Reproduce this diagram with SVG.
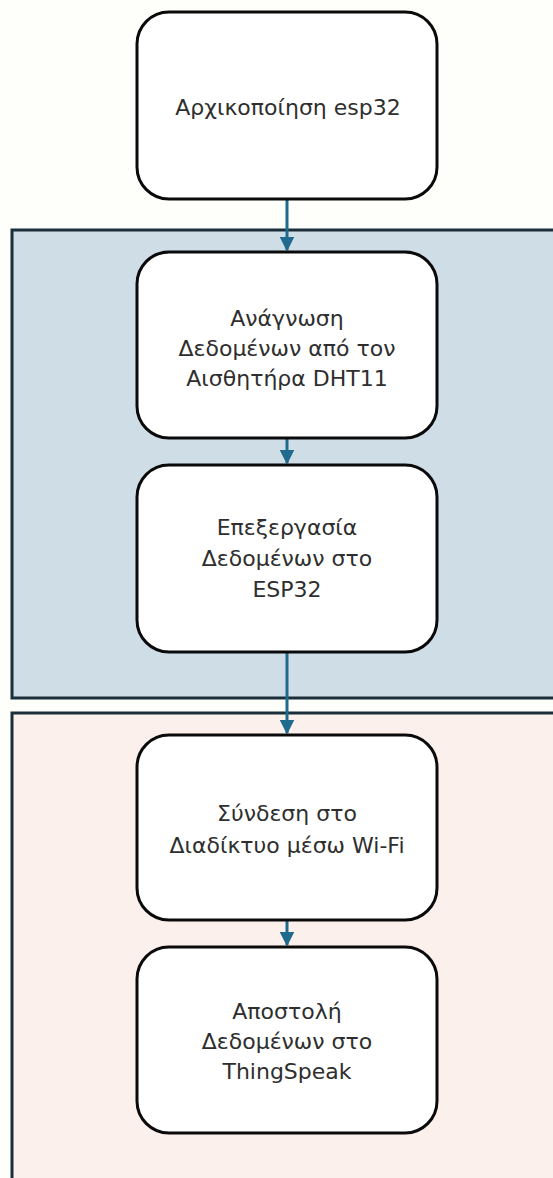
<svg xmlns="http://www.w3.org/2000/svg" width="553" height="1178" viewBox="0 0 553 1178">
<defs>
<style>
.bg{fill:#fefefb}
.lane{stroke:#1b2f3a;stroke-width:3}
.node{fill:#ffffff;stroke:#0a0a0a;stroke-width:3}
.lbl{font-family:"DejaVu Sans","Liberation Sans",sans-serif;font-size:22px;fill:#2e2e2e;text-anchor:middle}
.conn{stroke:#1f6a8d;stroke-width:3;fill:none}
</style>
<marker id="ah" markerWidth="5" markerHeight="5" refX="4.5" refY="2.5" orient="auto" markerUnits="strokeWidth">
<path d="M0,0 L5,2.5 L0,5 Z" fill="#1f6a8d"/>
</marker>
</defs>
<rect class="bg" x="0" y="0" width="553" height="1178"/>
<g id="lane-processing"><rect class="lane" x="12" y="230" width="560" height="468" fill="#cfdde6"/></g>
<g id="lane-transmission"><rect class="lane" x="12" y="713" width="560" height="500" fill="#fbf0eb"/></g>
<g id="connectors">
<line class="conn" x1="287" y1="199" x2="287" y2="250" marker-end="url(#ah)"/>
<line class="conn" x1="287" y1="438" x2="287" y2="463" marker-end="url(#ah)"/>
<line class="conn" x1="287" y1="652" x2="287" y2="733" marker-end="url(#ah)"/>
<line class="conn" x1="287" y1="920" x2="287" y2="945" marker-end="url(#ah)"/>
</g>
<g id="n1"><rect class="node" x="137" y="12" width="300" height="187" rx="32"/>
<text class="lbl" x="288" y="115">Αρχικοποίηση esp32</text></g>
<g id="n2"><rect class="node" x="137" y="252" width="300" height="186" rx="32"/>
<text class="lbl" x="287" y="326">Ανάγνωση</text>
<text class="lbl" x="287" y="356">Δεδομένων από τον</text>
<text class="lbl" x="287" y="386">Αισθητήρα DHT11</text></g>
<g id="n3"><rect class="node" x="137" y="465" width="300" height="187" rx="32"/>
<text class="lbl" x="287" y="535">Επεξεργασία</text>
<text class="lbl" x="287" y="566">Δεδομένων στο</text>
<text class="lbl" x="287" y="597">ESP32</text></g>
<g id="n4"><rect class="node" x="137" y="735" width="300" height="185" rx="32"/>
<text class="lbl" x="287" y="821">Σύνδεση στο</text>
<text class="lbl" x="287" y="853">Διαδίκτυο μέσω Wi-Fi</text></g>
<g id="n5"><rect class="node" x="137" y="947" width="300" height="186" rx="32"/>
<text class="lbl" x="287" y="1019">Αποστολή</text>
<text class="lbl" x="287" y="1049">Δεδομένων στο</text>
<text class="lbl" x="287" y="1079">ThingSpeak</text></g>
</svg>
